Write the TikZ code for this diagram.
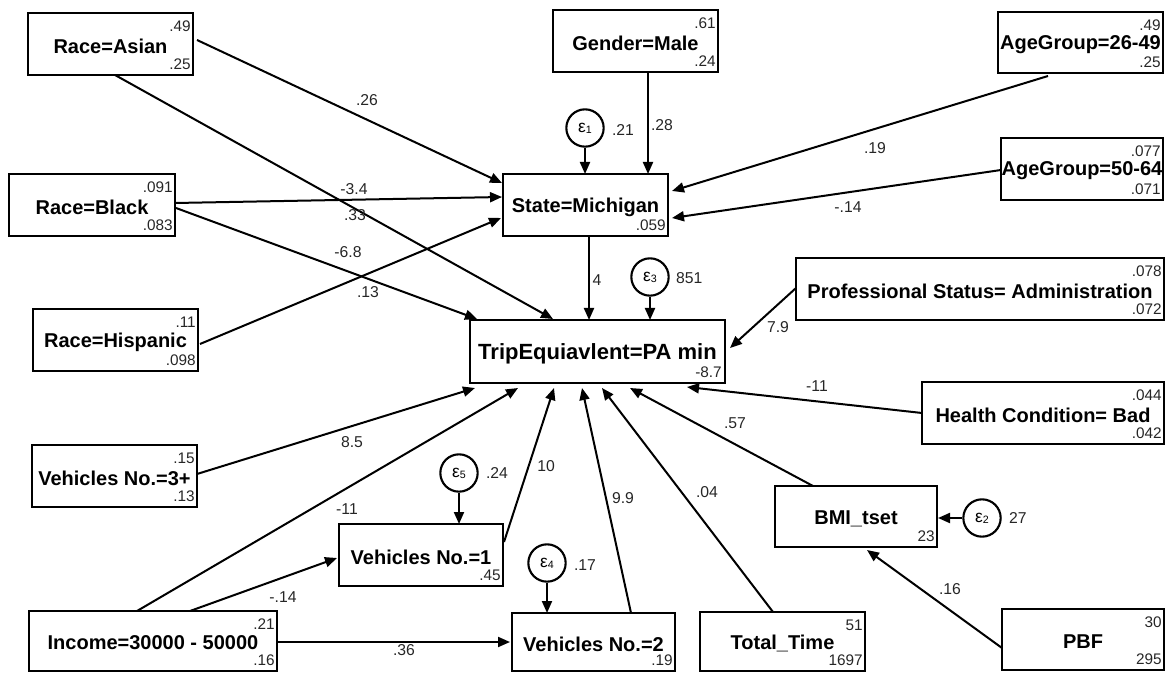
\documentclass[tikz,border=0pt]{standalone}
\usepackage{fontspec}
\setmainfont{Liberation Sans}
\usetikzlibrary{arrows.meta,calc,fit}
\tikzset{
  box/.style={draw, rectangle, line width=2pt, inner sep=0pt, outer sep=0pt},
  boxtext/.style={font=\fontsize{15}{18}\selectfont\bfseries, inner sep=0pt},
  bigtext/.style={font=\fontsize{16.5}{19}\selectfont\bfseries, inner sep=0pt},
  num/.style={font=\fontsize{11.5}{13}\selectfont, inner sep=0pt, text=black!85},
  lab/.style={font=\fontsize{11.8}{13}\selectfont, inner sep=0pt, text=black!85},
  err/.style={draw, circle, line width=1.6pt, minimum size=28pt, inner sep=0pt,
              font=\fontsize{13}{14}\selectfont},
  arr/.style={line width=1.5pt, -{Triangle[length=9pt,width=7.5pt]}}
}
% observed variable: name, corners (x1,y1) (x2,y2), label, upper value, lower value
\newcommand\semvar[8]{%
  \node[box, fit={(#2,#3) (#4,#5)}] (#1) {};
  \node[boxtext] (#1-name) at ($(#1.center)+(0,2)$) {#6};
  \node[num, anchor=north east] (#1-top) at ($(#1.north east)+(-2,8)$) {#7};
  \node[num, anchor=south east] (#1-bot) at ($(#1.south east)+(-2,-5)$) {#8};
}
\newcommand\eps[1]{ε\raisebox{-0.6pt}{\fontsize{8}{8}\selectfont #1}}
\begin{document}
\begin{tikzpicture}[x=0.75pt, y=-0.75pt]
\useasboundingbox (0,0) rectangle (1166,673);

% ---- exogenous and endogenous variables
\semvar{asian}{28}{13}{193}{75}{Race=Asian}{.49}{.25}
\semvar{black}{9}{174}{175}{236}{Race=Black}{.091}{.083}
\semvar{hisp}{33}{309}{198}{371}{Race=Hispanic}{.11}{.098}
\semvar{vthree}{32}{445}{197}{507}{Vehicles No.=3+}{.15}{.13}
\semvar{income}{29}{611}{277}{671}{Income=30000 - 50000}{.21}{.16}
\semvar{gender}{553}{10}{718}{72}{Gender=Male}{.61}{.24}
\semvar{state}{503}{174}{668}{236}{State=Michigan}{}{.059}
\semvar{ageA}{998}{12}{1163}{73}{AgeGroup=26-49}{.49}{.25}
\semvar{ageB}{1001}{138}{1163}{200}{AgeGroup=50-64}{.077}{.071}
\semvar{prof}{796}{258}{1164}{320}{Professional Status= Administration}{.078}{.072}
\semvar{health}{922}{382}{1164}{444}{Health Condition= Bad}{.044}{.042}
\semvar{bmi}{775}{486}{937}{547}{BMI\_tset}{}{23}
\semvar{pbf}{1002}{609}{1164}{670}{PBF}{30}{295}
\semvar{total}{700}{612}{865}{671}{Total\_Time}{51}{1697}
\semvar{vtwo}{512}{613}{675}{671}{Vehicles No.=2}{}{.19}
\semvar{vone}{339}{524}{503}{586}{Vehicles No.=1}{}{.45}

% ---- outcome
\node[box, fit={(470,320) (725,383)}] (trip) {};
\node[bigtext] (trip-name) at ($(trip.center)+(0,2)$) {TripEquiavlent=PA min};
\node[num, anchor=south east] (trip-bot) at ($(trip.south east)+(-3,-5)$) {-8.7};

% ---- error terms
\node[err] (e1) at (585,128) {\eps{1}};
\node[err] (e3) at (650,277) {\eps{3}};
\node[err] (e5) at (459,473) {\eps{5}};
\node[err] (e4) at (547,563) {\eps{4}};
\node[err] (e2) at (982,518) {\eps{2}};
\node[lab, anchor=west] (e1-v) at ($(e1.east)+(7,2)$) {.21};
\node[lab, anchor=west] (e3-v) at ($(e3.east)+(6,1)$) {851};
\node[lab, anchor=west] (e5-v) at ($(e5.east)+(7,0)$) {.24};
\node[lab, anchor=west] (e4-v) at ($(e4.east)+(7,2)$) {.17};
\node[lab, anchor=west] (e2-v) at ($(e2.east)+(7,0)$) {27};

% ---- paths into State=Michigan
\draw[arr] ($(asian.north west)+(169,27)$) -- ($(state.north west)+(-1,9)$);
\draw[arr] ($(black.north west)+(166,29)$) -- ($(state.north west)+(-1,23)$);
\draw[arr] ($(hisp.north west)+(167,35)$) -- ($(state.north west)+(-2,44)$);
\draw[arr] ($(gender.north west)+(95,63)$) -- ($(state.north west)+(145,0)$);
\draw[arr] ($(ageA.north west)+(50,64)$) -- ($(state.north west)+(169,17)$);
\draw[arr] ($(ageB.north west)+(0,32)$) -- ($(state.north west)+(169,44)$);
\draw[arr] (e1.south) -- ($(state.north west)+(82,0)$);

% ---- paths into TripEquiavlent
\draw[arr] ($(asian.north west)+(87,62)$) -- ($(trip.north west)+(83,-1)$);
\draw[arr] ($(black.north west)+(167,34)$) -- ($(trip.north west)+(7,-1)$);
\draw[arr] ($(state.north west)+(86,63)$) -- ($(trip.north west)+(119,0)$);
\draw[arr] (e3.south) -- ($(trip.north west)+(180,0)$);
\draw[arr] ($(prof.north west)+(0,30)$) -- ($(trip.north west)+(260,28)$);
\draw[arr] ($(health.north west)+(0,31)$) -- ($(trip.north west)+(217,67)$);
\draw[arr] ($(vthree.north west)+(165,29)$) -- ($(trip.north west)+(5,68)$);
\draw[arr] ($(income.north west)+(108,0)$) -- ($(trip.north west)+(48,68)$);
\draw[arr] ($(vone.north west)+(165,18)$) -- ($(trip.north west)+(84,68)$);
\draw[arr] ($(vtwo.north west)+(119,0)$) -- ($(trip.north west)+(112,68)$);
\draw[arr] ($(total.north west)+(73,0)$) -- ($(trip.north west)+(132,68)$);
\draw[arr] ($(bmi.north west)+(38,0)$) -- ($(trip.north west)+(160,68)$);

% ---- remaining paths
\draw[arr] ($(income.north west)+(161,0)$) -- ($(vone.north west)+(-2,34)$);
\draw[arr] ($(income.north west)+(248,31)$) -- ($(vtwo.north west)+(-2,29)$);
\draw[arr] (e5.south) -- ($(vone.north west)+(120,0)$);
\draw[arr] (e4.south) -- ($(vtwo.north west)+(35,0)$);
\draw[arr] (e2.west) -- ($(bmi.north west)+(163,32)$);
\draw[arr] ($(pbf.north west)+(0,39)$) -- ($(bmi.north west)+(92,64)$);

% ---- path coefficients
\node[lab] (c-asian-state) at (367,100) {.26};
\node[lab] (c-asian-trip) at (355,215) {.33};
\node[lab] (c-black-state) at (354,189) {-3.4};
\node[lab] (c-hisp-state) at (348,252) {-6.8};
\node[lab] (c-black-trip) at (368,292) {.13};
\node[lab] (c-gender) at (662,125) {.28};
\node[lab] (c-ageA) at (875,148) {.19};
\node[lab] (c-ageB) at (848,207) {-.14};
\node[lab] (c-state) at (597,280) {4};
\node[lab] (c-prof) at (778,327) {7.9};
\node[lab] (c-health) at (817,386) {-11};
\node[lab] (c-bmi) at (735,423) {.57};
\node[lab] (c-vthree) at (352,442) {8.5};
\node[lab] (c-income-trip) at (347,509) {-11};
\node[lab] (c-income-vone) at (283,597) {-.14};
\node[lab] (c-income-vtwo) at (404,650) {.36};
\node[lab] (c-vone) at (546,466) {10};
\node[lab] (c-vtwo) at (623,498) {9.9};
\node[lab] (c-total) at (707,492) {.04};
\node[lab] (c-pbf) at (950,589) {.16};
\end{tikzpicture}
\end{document}
